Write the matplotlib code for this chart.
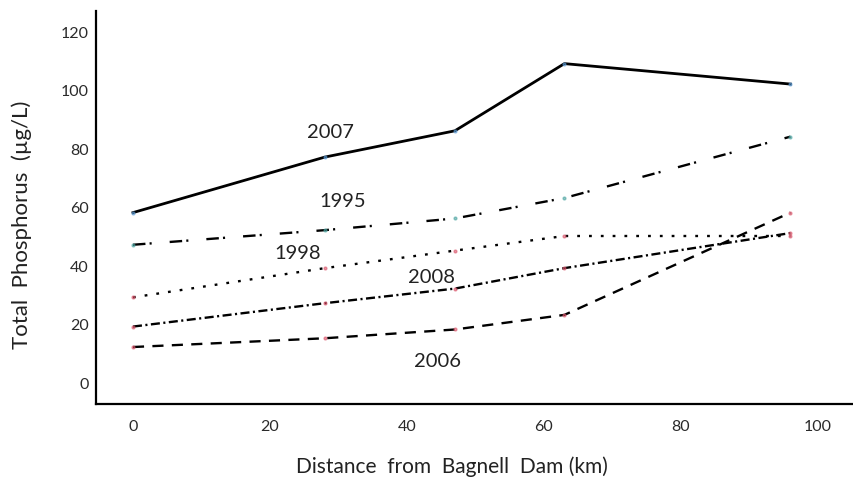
import matplotlib
matplotlib.use("Agg")
import matplotlib.pyplot as plt

# distance below the dam (km) and total phosphorus per survey year
distance = [0, 28, 47, 63, 96]
tp_2007 = [58, 77, 86, 109, 102]
tp_1995 = [47, 52, 56, 63, 84]
tp_1998 = [29, 39, 45, 50, 50]
tp_2008 = [19, 27, 32, 39, 51]
tp_2006 = [12, 15, 18, 23, 58]

x_ticks = [0, 20, 40, 60, 80, 100]
y_ticks = [0, 20, 40, 60, 80, 100, 120]

plt.rcParams['font.family'] = ['Lato', 'DejaVu Sans']
plt.rcParams['lines.scale_dashes'] = False

fig = plt.figure(figsize=(8.54, 4.81), dpi=100, facecolor='white')
ax = fig.add_axes([0.1124, 0.158, 0.8853, 0.817])

# values, line style, line width, point colour, label, label position
series = [
    (tp_2007, '-', 2.0, '#5b9bd5', '2007', (28.8, 85.6)),
    (tp_1995, (0, (9, 3, 1.5, 13)), 1.7, '#4aa3a0', '1995', (30.6, 62)),
    (tp_1998, (0, (2, 6.5)), 1.7, '#d9546a', '1998', (24, 44.2)),
    (tp_2008, (0, (6.5, 2.5, 1.5, 2.5)), 1.7, '#d9546a', '2008', (43.6, 36)),
    (tp_2006, (0, (8, 6)), 1.7, '#d9546a', '2006', (44.4, 7.5)),
]
for vals, ls, lw, mc, name, (lx, ly) in series:
    ax.plot(distance, vals, color='black', linestyle=ls, linewidth=lw)
    ax.plot(distance, vals, linestyle='none', marker='o', markersize=2,
            color=mc, alpha=0.6)
    ax.text(lx, ly, name, fontsize=14.5, ha='center', va='center', color='#222222')

ax.set_xlim(-5.4, 105)
ax.set_ylim(-7.5, 127)
ax.set_xticks(x_ticks)
ax.set_yticks(y_ticks)
ax.tick_params(length=0, labelsize=11.5, colors='#2a2a2a')
ax.tick_params(axis='x', pad=11)
ax.tick_params(axis='y', pad=5)

for side in ['top', 'right']:
    ax.spines[side].set_visible(False)
for side in ['left', 'bottom']:
    ax.spines[side].set_linewidth(1.6)
    ax.spines[side].set_color('black')

ax.set_xlabel('Distance  from  Bagnell  Dam (km)', fontsize=15, color='#222222', va='center')
ax.set_ylabel('Total  Phosphorus  (\u00b5g/L)', fontsize=16, color='#222222', va='center')
ax.xaxis.set_label_coords(0.471, -0.158)
ax.yaxis.set_label_coords(-0.098, 0.458)

fig.savefig('out.png', dpi=100, facecolor='white')
